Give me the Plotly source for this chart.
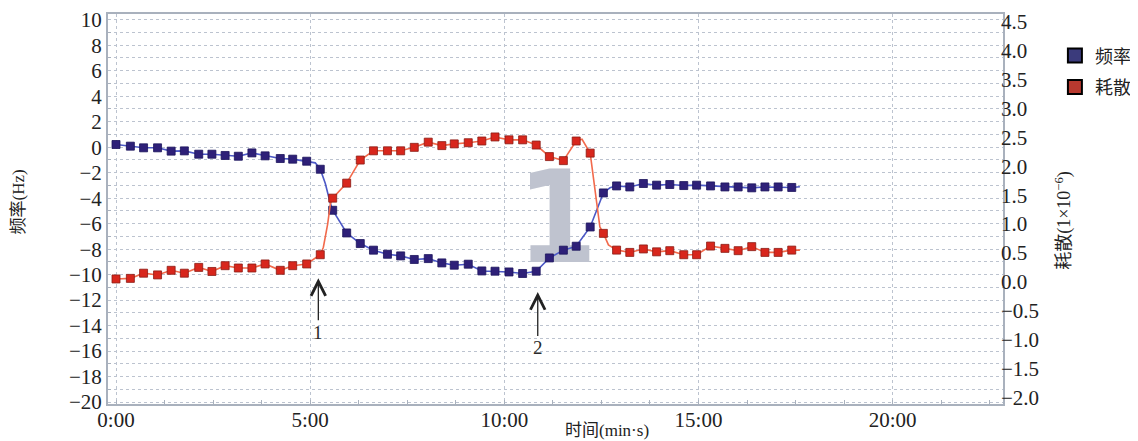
import plotly.graph_objects as go

# ---- data (time in minutes) ----
times = [0.00, 0.37, 0.71, 1.07, 1.42, 1.76, 2.13, 2.47, 2.81, 3.15, 3.50, 3.84, 4.23, 4.55, 4.91,
         5.26, 5.58, 5.94, 6.29, 6.63, 6.99, 7.33, 7.68, 8.04, 8.39, 8.71, 9.07, 9.42, 9.76, 10.12,
         10.47, 10.82, 11.16, 11.52, 11.85, 12.21, 12.55, 12.89, 13.23, 13.58, 13.92, 14.26, 14.62,
         14.95, 15.31, 15.68, 16.02, 16.37, 16.71, 17.05, 17.40]
frequency = [0.21, 0.08, -0.05, -0.05, -0.31, -0.29, -0.55, -0.55, -0.65, -0.71, -0.45, -0.68, -0.89,
             -0.94, -1.10, -1.73, -4.95, -6.73, -7.56, -8.08, -8.40, -8.53, -8.81, -8.74, -9.08,
             -9.26, -9.18, -9.71, -9.73, -9.79, -9.91, -9.73, -8.69, -8.08, -7.77, -6.26,
             -3.59, -3.04, -3.12, -2.85, -2.98, -2.93, -3.01, -2.98, -3.04, -3.12, -3.12, -3.19,
             -3.12, -3.12, -3.16]
dissipation = [0.05, 0.06, 0.15, 0.12, 0.20, 0.15, 0.25, 0.18, 0.28, 0.24, 0.24, 0.31, 0.20, 0.28,
               0.31, 0.47, 1.45, 1.71, 2.11, 2.27, 2.27, 2.27, 2.33, 2.42, 2.36,
               2.39, 2.41, 2.44, 2.51, 2.46, 2.46, 2.37, 2.17, 2.10, 2.44, 2.23,
               0.84, 0.55, 0.51, 0.57, 0.52, 0.54, 0.47, 0.47, 0.62, 0.58, 0.54, 0.61, 0.51, 0.51, 0.55]

# extra points of the continuous traces
freq_line_t = [5.13, 5.39, 5.51, 12.72, 17.61]
freq_line_v = [-1.23, -2.85, -4.30, -3.19, -3.10]
diss_line_t = [5.34, 5.45, 5.52, 12.00, 12.29, 12.38, 12.46, 12.68, 17.61]
diss_line_v = [0.60, 1.00, 1.35, 2.47, 1.82, 1.30, 0.95, 0.64, 0.55]

x_tickvals = [0, 5, 10, 15, 20]
x_ticktext = ["0:00", "5:00", "10:00", "15:00", "20:00"]

names = ["频率", "耗散"]
event_times = [5.21, 10.86]
event_levels = [-10.28, -11.36]
event_labels = ["1", "2"]
watermark_pos = (11.36, -6.50)


def merged(t1, v1, t2, v2):
    pts = sorted(zip(list(t1) + list(t2), list(v1) + list(v2)))
    return [p[0] for p in pts], [p[1] for p in pts]


f_lt, f_lv = merged(times, frequency, freq_line_t, freq_line_v)
d_lt, d_lv = merged(times, dissipation, diss_line_t, diss_line_v)

BLUE_LINE = "#4c58c6"
BLUE_MK = "#2e2078"
RED_LINE = "#f26a4c"
RED_MK = "#d8261c"
FRAME = "#a9b1bd"
GRID = "#bcc3cf"
SERIF = "Liberation Serif, Noto Sans CJK SC"
CJK = "Liberation Serif, Noto Sans CJK SC"

fig = go.Figure()

# large watermark digit behind the data
fig.add_trace(go.Scatter(x=[watermark_pos[0]], y=[watermark_pos[1]], mode="text", text=["1"],
                         textposition="middle center",
                         textfont=dict(family="DejaVu Sans Condensed, DejaVu Sans", size=128,
                                       color="#bfc3cf", weight="bold"),
                         showlegend=False, hoverinfo="skip"))

fig.add_trace(go.Scatter(x=d_lt, y=d_lv, mode="lines", yaxis="y2",
                         line=dict(color=RED_LINE, width=1.6), showlegend=False))
fig.add_trace(go.Scatter(x=f_lt, y=f_lv, mode="lines",
                         line=dict(color=BLUE_LINE, width=1.6), showlegend=False))
fig.add_trace(go.Scatter(x=times, y=dissipation, mode="markers", yaxis="y2",
                         marker=dict(symbol="square", size=8, color=RED_MK,
                                     line=dict(color="#8a1c14", width=0.8)),
                         showlegend=False))
fig.add_trace(go.Scatter(x=times, y=frequency, mode="markers",
                         marker=dict(symbol="square", size=8, color=BLUE_MK,
                                     line=dict(color="#1c145c", width=0.8)),
                         showlegend=False))

# legend entries
fig.add_trace(go.Scatter(x=[None], y=[None], mode="markers", name=names[0], legendgroup="a",
                         marker=dict(symbol="square", size=14, color="#3b3b7c",
                                     line=dict(color="black", width=2))))
fig.add_trace(go.Scatter(x=[None], y=[None], mode="markers", name=names[1], legendgroup="b",
                         marker=dict(symbol="square", size=14, color="#b8392f",
                                     line=dict(color="black", width=2))))

annotations = []
for t, lvl, lab in zip(event_times, event_levels, event_labels):
    annotations.append(dict(x=t, y=lvl, xref="x", yref="y", text=lab, showarrow=True,
                            arrowhead=5, arrowsize=2.2, arrowwidth=1.3, arrowcolor="#222222",
                            ax=0, ay=54 if lab == "1" else 56,
                            font=dict(family=SERIF, size=19, color="#2a2a2a")))

annotations += [
    dict(x=-0.099, y=0.518, xref="paper", yref="paper", text="频率(Hz)", textangle=-90,
         xanchor="center", yanchor="middle",
         showarrow=False, font=dict(family=CJK, size=17, color="#222222")),
    dict(x=1.0678, y=0.4715, xref="paper", yref="paper", text="耗散(1×10<sup>−6</sup>)",
         textangle=-90, xanchor="center", yanchor="middle",
         showarrow=False, font=dict(family=CJK, size=18, color="#222222")),
    dict(x=0.5575, y=-0.068, xref="paper", yref="paper", text="时间(min·s)",
         xanchor="center", yanchor="middle",
         showarrow=False, font=dict(family=CJK, size=17, color="#222222")),
]

# the page body adds an 8 px offset, so the figure is drawn 8 px smaller on each far side
fig.update_layout(
    width=1130, height=433,
    margin=dict(l=100, r=135, t=6, b=37, autoexpand=False),
    paper_bgcolor="white", plot_bgcolor="white",
    showlegend=True,
    legend=dict(x=1.058, xanchor="left", y=0.94, yanchor="top", traceorder="grouped",
                tracegroupgap=5, font=dict(family="Noto Sans CJK SC", size=18, color="#222222"),
                bgcolor="rgba(0,0,0,0)", borderwidth=0),
    annotations=annotations,
    xaxis=dict(range=[-0.206, 22.84], tickvals=x_tickvals, ticktext=x_ticktext,
               showgrid=True, gridcolor=GRID, griddash="dot", gridwidth=1,
               zeroline=False, showline=True, mirror=True, linecolor=FRAME, linewidth=2,
               ticks="", ticklabelstandoff=-4,
               tickfont=dict(family=SERIF, size=21, color="#222222"),
               minor=dict(dtick=1.25, tick0=0, ticks="inside", ticklen=4, tickcolor=FRAME,
                          showgrid=False)),
    yaxis=dict(range=[-20.15, 10.45], dtick=2, tick0=0,
               showgrid=True, gridcolor=GRID, griddash="dot", gridwidth=1,
               zeroline=False, showline=True, mirror=True, linecolor=FRAME, linewidth=2,
               ticks="", ticklabelstandoff=0,
               tickfont=dict(family=SERIF, size=21, color="#222222"),
               minor=dict(dtick=1, showgrid=True, gridcolor=GRID, griddash="dot",
                          ticks="inside", ticklen=3, tickcolor=FRAME)),
    yaxis2=dict(range=[-2.116, 4.64], dtick=0.5, tick0=0, tickformat=".1f",
                overlaying="y", side="right", showgrid=False, zeroline=False,
                showline=False, ticks="", ticklabelstandoff=-3,
                tickfont=dict(family=SERIF, size=21, color="#222222")),
)

fig.write_html("out.html")
